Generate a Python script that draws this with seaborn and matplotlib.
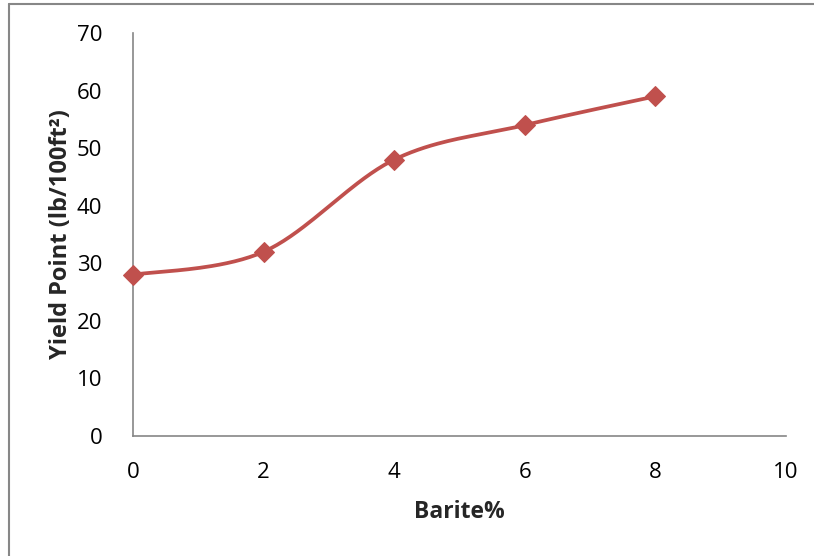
import numpy as np
import matplotlib
matplotlib.use("Agg")
import matplotlib.pyplot as plt
from matplotlib.lines import Line2D
import seaborn as sns

# Yield point measurements versus barite content
barite_pct = [0, 2, 4, 6, 8]
yield_point = [28, 32, 48, 54, 59]
x_ticks = [0, 2, 4, 6, 8, 10]
y_ticks = [0, 10, 20, 30, 40, 50, 60, 70]

LINE_COLOR = "#C0504D"
AXIS_COLOR = "#868686"

sns.set_theme(style="white")
plt.rcParams["font.family"] = ["Open Sans", "DejaVu Sans"]


def smooth_curve(xs, ys, n=40):
    """Cubic Bezier smoothing through every point (Catmull-Rom style)."""
    pts = np.column_stack([xs, ys]).astype(float)
    ext = np.vstack([pts[0], pts, pts[-1]])
    out = []
    t = np.linspace(0, 1, n)[:, None]
    for i in range(len(pts) - 1):
        p0, p1, p2, p3 = ext[i], ext[i + 1], ext[i + 2], ext[i + 3]
        c1 = p1 + (p2 - p0) / 6.0
        c2 = p2 - (p3 - p1) / 6.0
        seg = ((1 - t) ** 3) * p1 + 3 * ((1 - t) ** 2) * t * c1 \
            + 3 * (1 - t) * t ** 2 * c2 + t ** 3 * p2
        out.append(seg if i == 0 else seg[1:])
    curve = np.vstack(out)
    return curve[:, 0], curve[:, 1]


fig = plt.figure(figsize=(8.14, 5.56), dpi=100)
fig.patch.set_facecolor("white")
ax = fig.add_axes([133 / 814, 1 - 436 / 556, 653 / 814, 403 / 556])

cx, cy = smooth_curve(barite_pct, yield_point)
sns.lineplot(x=cx, y=cy, ax=ax, color=LINE_COLOR, linewidth=2.7,
             sort=False, estimator=None, clip_on=False, zorder=3)
sns.lineplot(x=barite_pct, y=yield_point, ax=ax, color=LINE_COLOR,
             linewidth=0, marker="D", markersize=10,
             markeredgecolor=LINE_COLOR, markerfacecolor=LINE_COLOR,
             clip_on=False, zorder=4)

ax.set_xlim(0, 10)
ax.set_ylim(0, 70)
ax.set_xticks(x_ticks)
ax.set_yticks(y_ticks)
ax.set_xticklabels([str(v) for v in x_ticks])
ax.set_yticklabels([str(v) for v in y_ticks])
ax.tick_params(axis="both", length=0, labelsize=16, colors="black")
ax.tick_params(axis="x", pad=19)
ax.tick_params(axis="y", pad=22)

for side in ("top", "right"):
    ax.spines[side].set_visible(False)
for side in ("left", "bottom"):
    ax.spines[side].set_color(AXIS_COLOR)
    ax.spines[side].set_linewidth(1.2)
    ax.spines[side].set_zorder(2)
ax.grid(False)
ax.set_facecolor("white")

ax.set_xlabel("Barite%", fontsize=16.5, fontweight="bold", va="center")
ax.set_ylabel("Yield Point (lb/100ft²)", fontsize=17, fontweight="bold",
              va="center")
ax.xaxis.set_label_coords(0.5, (436 - 512) / 403)
ax.yaxis.set_label_coords((61 - 133) / 653, 0.5)

# Chart-area frame along the left and top edges
fx = 8.5 / 814
fy = 1 - 3.5 / 556
fig.add_artist(Line2D([fx, fx], [0, fy], transform=fig.transFigure,
                      color="#878787", linewidth=1.5))
fig.add_artist(Line2D([fx, 1], [fy, fy], transform=fig.transFigure,
                      color="#878787", linewidth=1.5))

fig.savefig("out.png", dpi=100, facecolor="white")
